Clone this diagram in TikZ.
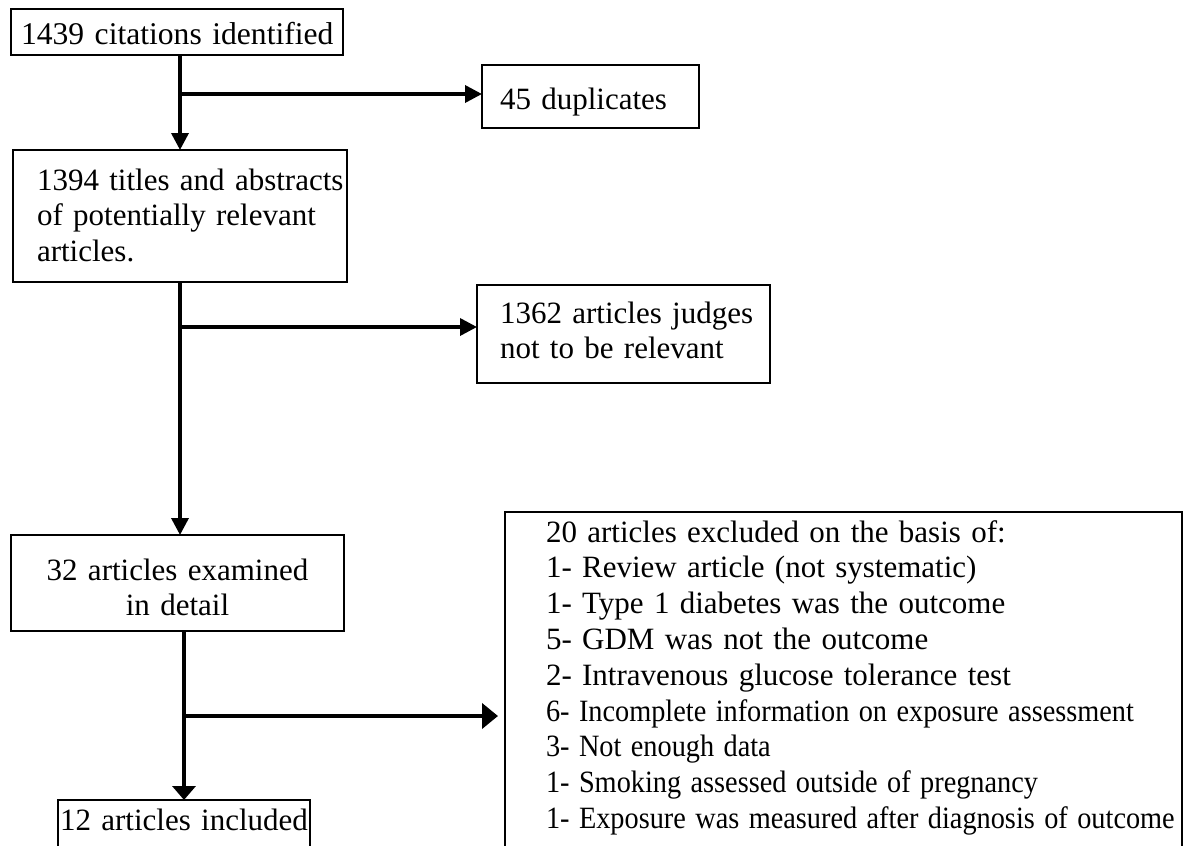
\documentclass[tikz,border=0pt]{standalone}
\usepackage{graphicx}
\usepackage{fontspec}
\setmainfont{Liberation Serif}
\usetikzlibrary{arrows.meta}
\setlength{\parindent}{0pt}
\newcommand{\bigfs}{\fontsize{31}{35.8}\selectfont}
\newcommand{\tstr}[1]{\rule{0pt}{#1pt}}
\newcommand{\bstr}[1]{\rule[-#1pt]{0pt}{#1pt}}
\newcommand{\cond}[1]{\scalebox{0.913}[1]{#1}}
\begin{document}
\begin{tikzpicture}[x=1pt,y=-1pt,
  box/.style={draw, line width=1.8pt, outer sep=0pt, inner ysep=0pt, anchor=north west, font=\bigfs},
  conn/.style={line width=3.5pt},
  connb/.style={line width=4.5pt},
  tipa/.style={-{Triangle[length=17pt,width=17pt]}},
  tipb/.style={-{Triangle[length=14pt,width=23pt]}},
  tipc/.style={-{Triangle[length=16pt,width=25pt]}}
]
\path[use as bounding box, fill=white] (0,0) rectangle (1184,846);
\clip (0,0) rectangle (1184,846);

% boxes
\node[box, minimum width=332pt, minimum height=46pt, text width=312pt, inner xsep=10pt, align=center,
      font=\fontsize{31.6}{35.8}\selectfont] (b1) at (11,9)
  {\mbox{\tstr{34.74}1439 citations identified\bstr{10.74}}};

\node[box, minimum width=217pt, minimum height=63pt, text width=181pt, inner xsep=18pt, align=left] (d45) at (482,65)
  {\mbox{\tstr{35.74}45 duplicates\bstr{10.74}}};

\node[box, minimum width=334pt, minimum height=132pt, text width=286pt, inner xsep=24pt, align=left] (b2) at (13,150)
  {\mbox{\tstr{30.34}1394 titles and abstracts}\\
   \mbox{of potentially relevant}\\
   \mbox{articles.\bstr{10.74}}};

\node[box, minimum width=293pt, minimum height=98pt, text width=247pt, inner xsep=23pt, align=left] (r1) at (477,285)
  {\mbox{\tstr{24.54}1362 articles judges}\\
   \mbox{not to be relevant\bstr{10.74}}};

\node[box, minimum width=333pt, minimum height=96pt, text width=313pt, inner xsep=10pt, align=center] (b3) at (11,535)
  {\mbox{\tstr{40.54}32 articles examined}\\
   \mbox{in detail\bstr{10.74}}};

\node[box, minimum width=252pt, minimum height=60pt, text width=250pt, inner xsep=1pt, align=center] (b4) at (58,800)
  {\mbox{\tstr{25}12 articles included\bstr{25}}};

\node[box, minimum width=677pt, minimum height=380pt, text width=595pt, inner xsep=41pt, align=left] (ex) at (505,512)
  {\mbox{\tstr{24}20 articles excluded on the basis of:}\\
   \mbox{1- Review article (not systematic)}\\
   \mbox{1- Type 1 diabetes was the outcome}\\
   \mbox{5- GDM was not the outcome}\\
   \mbox{2- Intravenous glucose tolerance test}\\
   \mbox{\cond{6- Incomplete information on exposure assessment}}\\
   \mbox{\cond{3- Not enough data}}\\
   \mbox{\cond{1- Smoking assessed outside of pregnancy}}\\
   \mbox{\cond{1- Exposure was measured after diagnosis of outcome}\bstr{57.6}}};

% connectors
\coordinate (j1) at (180,94);
\coordinate (j2) at (180,327);
\coordinate (j3) at (184,716);
\draw[conn, tipa] (b1.south -| b2.north) -- (b2.north);
\draw[conn, tipa] (j1) -- (j1 -| d45.west);
\draw[conn, tipa] (b2.south) -- (b2.south |- b3.north);
\draw[conn, tipa] (j2) -- (j2 -| r1.west);
\draw[connb, tipb] (b4.north |- b3.south) -- (b4.north);
\draw[connb, tipc] (j3) -- ([xshift=-7pt]j3 -| ex.west);
\end{tikzpicture}
\end{document}
